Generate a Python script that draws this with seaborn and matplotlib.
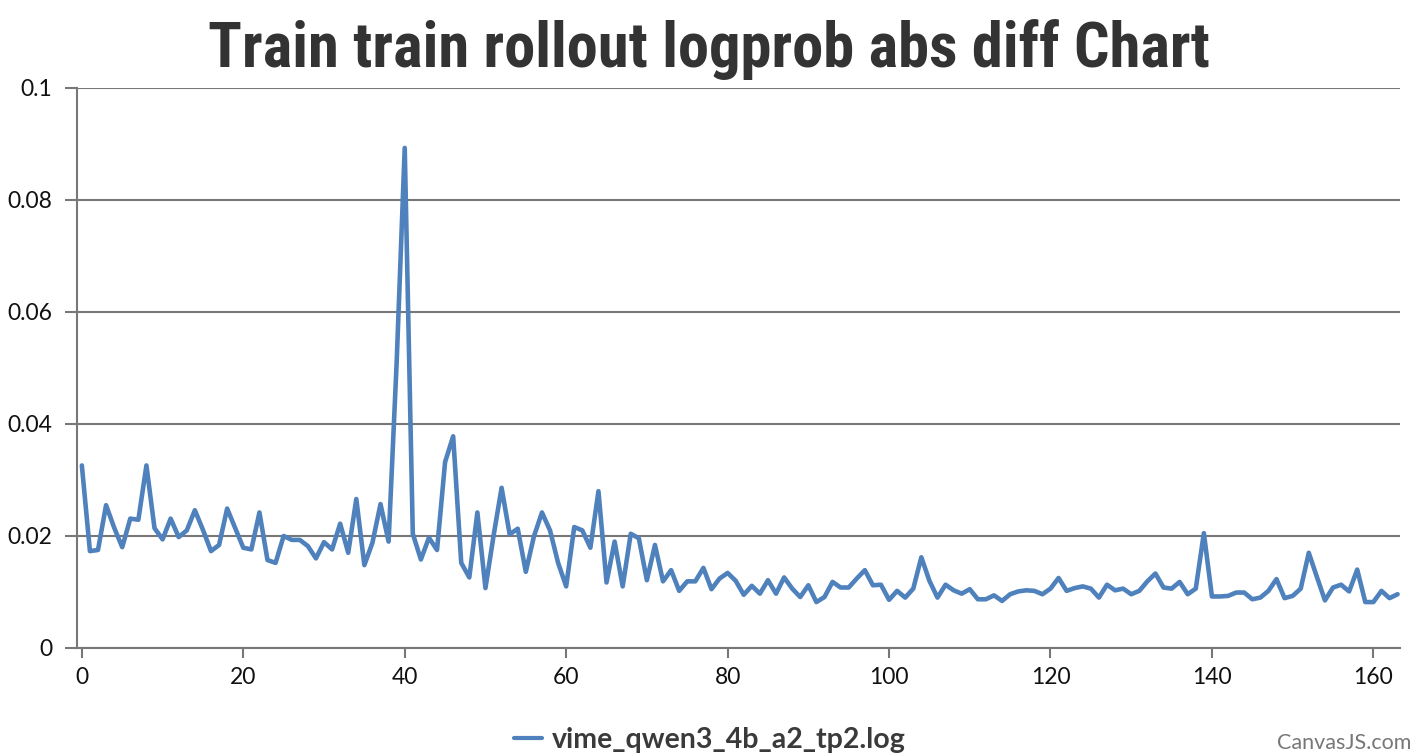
"""Train rollout logprob abs diff chart"""
import matplotlib

matplotlib.use("Agg")
import matplotlib.pyplot as plt
import pandas as pd
import seaborn as sns

series_name = "vime_qwen3_4b_a2_tp2.log"
title = "Train train rollout logprob abs diff Chart"

values = [
    0.0326, 0.0173, 0.0175, 0.0255, 0.0215, 0.0180, 0.0231, 0.0229, 0.0326, 0.0214,
    0.0194, 0.0231, 0.0198, 0.0210, 0.0246, 0.0211, 0.0173, 0.0184, 0.0249, 0.0214,
    0.0179, 0.0176, 0.0242, 0.0157, 0.0152, 0.0200, 0.0193, 0.0193, 0.0182, 0.0160,
    0.0189, 0.0176, 0.0222, 0.0170, 0.0266, 0.0148, 0.0188, 0.0257, 0.0190, 0.0510,
    0.0893, 0.0204, 0.0158, 0.0197, 0.0175, 0.0332, 0.0378, 0.0152, 0.0126, 0.0242,
    0.0107, 0.0200, 0.0286, 0.0203, 0.0213, 0.0136, 0.0199, 0.0242, 0.0210, 0.0152,
    0.0110, 0.0216, 0.0210, 0.0179, 0.0280, 0.0117, 0.0190, 0.0110, 0.0204, 0.0196,
    0.0121, 0.0184, 0.0119, 0.0139, 0.0102, 0.0119, 0.0119, 0.0143, 0.0105, 0.0124,
    0.0134, 0.0120, 0.0095, 0.0111, 0.0097, 0.0121, 0.0097, 0.0126, 0.0106, 0.0091,
    0.0112, 0.0082, 0.0091, 0.0118, 0.0108, 0.0108, 0.0124, 0.0139, 0.0112, 0.0113,
    0.0086, 0.0102, 0.0090, 0.0106, 0.0162, 0.0120, 0.0090, 0.0113, 0.0103, 0.0097,
    0.0105, 0.0087, 0.0087, 0.0094, 0.0084, 0.0096, 0.0101, 0.0103, 0.0102, 0.0096,
    0.0106, 0.0125, 0.0102, 0.0107, 0.0110, 0.0106, 0.0090, 0.0113, 0.0103, 0.0106,
    0.0096, 0.0102, 0.0119, 0.0133, 0.0108, 0.0106, 0.0118, 0.0096, 0.0106, 0.0205,
    0.0092, 0.0092, 0.0093, 0.0099, 0.0099, 0.0087, 0.0090, 0.0102, 0.0123, 0.0089,
    0.0093, 0.0106, 0.0170, 0.0127, 0.0085, 0.0108, 0.0113, 0.0101, 0.0140, 0.0082,
    0.0082, 0.0102, 0.0089, 0.0096,
]
steps = list(range(len(values)))

x_ticks = [0, 20, 40, 60, 80, 100, 120, 140, 160]
y_ticks = [0, 0.02, 0.04, 0.06, 0.08, 0.1]
y_tick_labels = ["0", "0.02", "0.04", "0.06", "0.08", "0.1"]

line_color = "#4F81BC"
grid_color = "#777777"

sns.set_theme(style="white")
plt.rcParams["font.family"] = ["Lato", "DejaVu Sans"]

df = pd.DataFrame({"step": steps, "value": values, "series": series_name})

fig = plt.figure(figsize=(14.13, 7.54), dpi=100)
fig.patch.set_facecolor("white")
ax = fig.add_axes([0.0545, 0.1406, 0.9363, 0.7427])

sns.lineplot(
    data=df, x="step", y="value", hue="series", palette=[line_color],
    linewidth=3.3, ax=ax, legend=False,
)

ax.set_xlim(-0.6, 163.3)
ax.set_ylim(0, 0.1)
ax.set_xticks(x_ticks)
ax.set_yticks(y_ticks)
ax.set_yticklabels(y_tick_labels)
ax.set_xlabel("")
ax.set_ylabel("")

ax.grid(axis="y", color=grid_color, linewidth=1.5)
ax.set_axisbelow(True)
for side in ["top", "right"]:
    ax.spines[side].set_visible(False)
for side in ["left", "bottom"]:
    ax.spines[side].set_color(grid_color)
    ax.spines[side].set_linewidth(1.5)

ax.tick_params(axis="y", length=8.6, width=1.5, color=grid_color, pad=9,
               labelsize=16.5, labelcolor="#111111", left=True)
ax.tick_params(axis="x", length=7, width=1.5, color=grid_color, pad=7,
               labelsize=16.5, labelcolor="#111111", bottom=True)

fig.text(0.502, 0.911, title, ha="center", va="baseline", fontsize=45,
         fontweight="heavy", fontstretch="condensed", color="#333333",
         family=["Roboto Condensed", "DejaVu Sans"])

# legend entry below the plot
handle = plt.Line2D([], [], color=line_color, linewidth=3)
fig.legend([handle], [series_name], loc="center", bbox_to_anchor=(0.5025, 0.018),
           frameon=False, handlelength=1.0, handletextpad=0.35,
           prop={"family": ["Lato", "DejaVu Sans"], "weight": "bold",
                 "size": 20.5},
           labelcolor="#3a3a3a")

fig.text(0.9985, 0.014, "CanvasJS.com", ha="right", va="center", fontsize=15.5,
         color="#777777")

fig.savefig("out.png", dpi=100, facecolor="white")
